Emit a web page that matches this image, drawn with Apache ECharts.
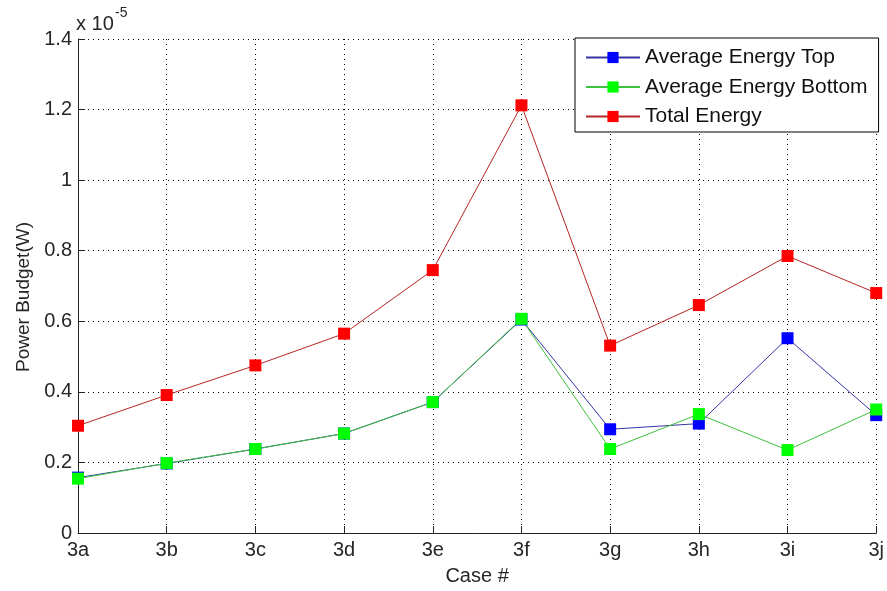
<!DOCTYPE html>
<html>
<head>
<meta charset="utf-8">
<script src="https://cdn.jsdelivr.net/npm/echarts@6/dist/echarts.min.js"></script>
<style>
  html, body { margin: 0; padding: 0; background: #fff; }
  #chart { width: 887px; height: 591px; }
</style>
</head>
<body>
<div id="chart"></div>
<script>
// Case labels along the x axis
const cases = ['3a', '3b', '3c', '3d', '3e', '3f', '3g', '3h', '3i', '3j'];

// Power budget per case, in units of 1e-5 W
const avgTop    = [0.157, 0.197, 0.238, 0.282, 0.371, 0.605, 0.294, 0.310, 0.552, 0.334];
const avgBottom = [0.154, 0.198, 0.238, 0.282, 0.371, 0.607, 0.238, 0.337, 0.235, 0.350];
const total     = [0.304, 0.391, 0.475, 0.565, 0.745, 1.212, 0.531, 0.646, 0.785, 0.680];

const seriesNames = ['Average Energy Top', 'Average Energy Bottom', 'Total Energy'];

const FONT = '"Liberation Sans", Arial, Helvetica, sans-serif';
const TEXT = '#262626';
const FS = 20;

function lineSeries(name, data, lineColor, markColor) {
  return {
    name: name,
    type: 'line',
    data: data,
    symbol: 'rect',
    symbolSize: 12,
    showSymbol: true,
    lineStyle: { color: lineColor, width: 1 },
    itemStyle: { color: markColor, borderWidth: 0 },
    emphasis: { disabled: true },
    animation: false
  };
}

const chart = echarts.init(document.getElementById('chart'), null, { renderer: 'canvas' });

chart.setOption({
  backgroundColor: '#fff',
  animation: false,
  textStyle: { fontFamily: FONT },
  grid: { left: 78, right: 10, top: 39, bottom: 54, containLabel: false },
  legend: {
    data: seriesNames,
    orient: 'vertical',
    left: 575,
    top: 38,
    padding: [9, 11, 5, 10],
    itemWidth: 54,
    itemHeight: 14,
    itemGap: 8.5,
    backgroundColor: '#fff',
    borderColor: '#000',
    borderWidth: 1,
    borderRadius: 0,
    textStyle: { fontFamily: FONT, fontSize: 21, color: '#111' }
  },
  xAxis: {
    type: 'category',
    data: cases,
    boundaryGap: false,
    name: 'Case #',
    nameLocation: 'middle',
    nameGap: 33,
    nameTextStyle: { fontFamily: FONT, fontSize: FS, color: TEXT },
    axisLine: { show: true, lineStyle: { color: '#222', width: 1 } },
    axisTick: { show: true, inside: true, length: 7, alignWithLabel: true, lineStyle: { color: '#222' } },
    axisLabel: { fontFamily: FONT, fontSize: FS, color: TEXT, margin: 7 },
    splitLine: { show: true, lineStyle: { color: '#000', type: [1, 4], width: 1 } }
  },
  yAxis: {
    type: 'value',
    min: 0,
    max: 1.4,
    interval: 0.2,
    name: 'Power Budget(W)',
    nameLocation: 'middle',
    nameGap: 45,
    nameRotate: 90,
    nameTextStyle: { fontFamily: FONT, fontSize: 19, color: TEXT, padding: [0, 22, 0, 0] },
    axisLine: { show: true, lineStyle: { color: '#222', width: 1 } },
    axisTick: { show: true, inside: true, length: 7, lineStyle: { color: '#222' } },
    axisLabel: {
      fontFamily: FONT, fontSize: FS, color: TEXT, margin: 6,
      formatter: function (v) { return parseFloat(v.toFixed(1)).toString(); }
    },
    splitLine: { show: true, lineStyle: { color: '#000', type: [1, 4], width: 1 } }
  },
  // Exponent note for the y axis scale
  graphic: [
    {
      type: 'text',
      left: 76,
      top: 14,
      style: { text: 'x 10', fontFamily: FONT, fontSize: FS, fill: TEXT }
    },
    {
      type: 'text',
      left: 115,
      top: 6,
      style: { text: '-5', fontFamily: FONT, fontSize: 14, fill: TEXT }
    }
  ],
  series: [
    lineSeries(seriesNames[0], avgTop, '#3535a5', '#0000ff'),
    lineSeries(seriesNames[1], avgBottom, '#3dc23d', '#00ff00'),
    lineSeries(seriesNames[2], total, '#b52525', '#ff0000')
  ]
});
</script>
</body>
</html>
